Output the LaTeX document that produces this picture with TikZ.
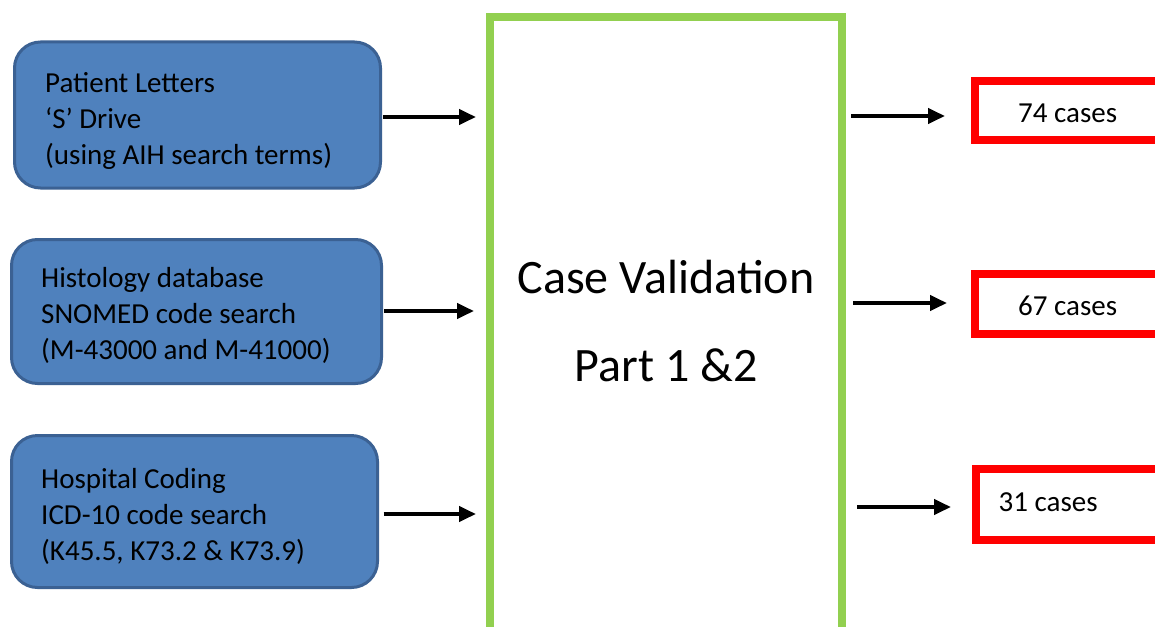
\documentclass[tikz,border=0pt]{standalone}
\usepackage{fontspec}
\setmainfont{Carlito}
\usetikzlibrary{arrows.meta}
\definecolor{boxfill}{HTML}{4F81BD}
\definecolor{boxline}{HTML}{3B6193}
\definecolor{valgreen}{HTML}{92D050}
\definecolor{outred}{HTML}{FF0000}
\begin{document}
\begin{tikzpicture}[x=1pt,y=-1pt,
  bluebox/.style={draw=boxline, fill=boxfill, line width=3pt, rounded corners=26pt, inner sep=0pt, outer sep=0pt},
  bluetext/.style={anchor=base west, inner sep=0pt, align=left, font=\fontsize{29}{36}\selectfont},
  redbox/.style={draw=outred, line width=8pt, anchor=west, minimum width=201pt, inner sep=0pt, outer sep=0pt},
  redtext/.style={anchor=west, inner sep=0pt, font=\fontsize{29}{34}\selectfont},
  bigtext/.style={anchor=base, inner sep=0pt, font=\fontsize{48}{56}\selectfont},
  arr/.style={line width=4pt, -{Triangle[length=17pt,width=15pt]}}
]
\useasboundingbox (0,0) rectangle (1155,626);
\clip (0,0) rectangle (1155,626);

% input boxes
\node[bluebox, minimum width=366pt, minimum height=146pt] (b1) at (197.5,115) {};
\node[bluetext] (b1t) at (45,164) {Patient Letters\\‘S’ Drive\\(using AIH search terms)};
\node[bluebox, minimum width=370pt, minimum height=144pt] (b2) at (196.5,311.5) {};
\node[bluetext] (b2t) at (41,359) {Histology database\\SNOMED code search\\(M-43000 and M-41000)};
\node[bluebox, minimum width=366pt, minimum height=152pt] (b3) at (194.5,511.5) {};
\node[bluetext] (b3t) at (41,560) {Hospital Coding\\ICD-10 code search\\(K45.5, K73.2 \& K73.9)};

% validation box
\node[draw=valgreen, line width=8pt, minimum width=352pt, minimum height=682pt, inner sep=0pt, outer sep=0pt] (g) at (666,358) {};
\node[bigtext] (t1) at (666,293) {Case Validation};
\node[bigtext] (t2) at (666,381) {Part 1 \&2};

% outputs
\node[redbox, minimum height=59pt] (r1) at (974.5,110.5) {};
\node[redtext] (r1t) at ([xshift=43.5pt,yshift=-2.5pt]r1.west) {74 cases};
\node[redbox, minimum height=60pt] (r2) at (974.5,304) {};
\node[redtext] (r2t) at ([xshift=43.5pt,yshift=-2pt]r2.west) {67 cases};
\node[redbox, minimum height=71pt] (r3) at (975.5,504.5) {};
\node[redtext] (r3t) at ([xshift=23pt,yshift=2.5pt]r3.west) {31 cases};

% connectors
\draw[arr, shorten <=2.5pt, shorten >=14pt] ([yshift=-2pt]b1.east) -- ([yshift=-2pt]b1.east -| g.west);
\draw[arr, shorten <=2.5pt, shorten >=16pt] ([yshift=0.5pt]b2.east) -- ([yshift=0.5pt]b2.east -| g.west);
\draw[arr, shorten <=6pt, shorten >=14pt] ([yshift=-2.5pt]b3.east) -- ([yshift=-2.5pt]b3.east -| g.west);
\draw[arr, shorten <=9pt, shorten >=29.5pt] ([yshift=-5.5pt]r1.west -| g.east) -- ([yshift=-5.5pt]r1.west);
\draw[arr, shorten <=11pt, shorten >=27.5pt] ([yshift=1pt]r2.west -| g.east) -- ([yshift=1pt]r2.west);
\draw[arr, shorten <=15pt, shorten >=24.5pt] ([yshift=-2.5pt]r3.west -| g.east) -- ([yshift=-2.5pt]r3.west);
\end{tikzpicture}
\end{document}
